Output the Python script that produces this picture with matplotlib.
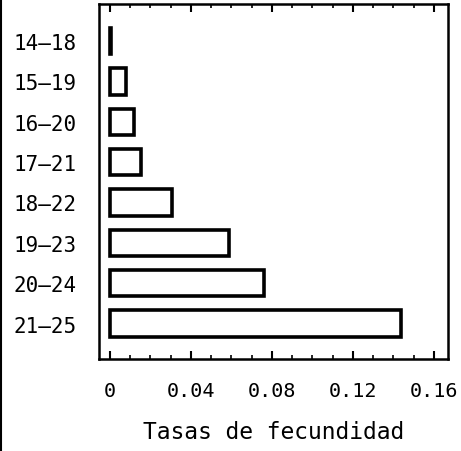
import matplotlib
matplotlib.use("Agg")
import matplotlib.pyplot as plt
from matplotlib.ticker import MultipleLocator, FixedLocator
from matplotlib.lines import Line2D

# Fertility rates by age group
age_groups = ["14-18", "15-19", "16-20", "17-21", "18-22", "19-23", "20-24", "21-25"]
rates = [0.0005, 0.0079, 0.0119, 0.0153, 0.0306, 0.0588, 0.0760, 0.1437]
xtick_values = [0, 0.04, 0.08, 0.12, 0.16]
xtick_labels = ["0", "0.04", "0.08", "0.12", "0.16"]

plt.rcParams["font.family"] = "DejaVu Sans Mono"

fig = plt.figure(figsize=(4.61, 4.52), dpi=100)
ax = fig.add_axes([0.2148, 0.2035, 0.757, 0.7854])

positions = list(range(len(age_groups)))
ax.barh(positions, rates, height=0.66, left=0, color="white",
        edgecolor="black", linewidth=2.6)

ax.set_ylim(len(age_groups) - 1 + 0.88, -0.92)
ax.set_xlim(-0.0054, 0.167)

ax.set_yticks(positions)
ax.set_yticklabels([g.replace("-", "\u2013") for g in age_groups], fontsize=15)
ax.tick_params(axis="y", length=0, pad=16)

ax.xaxis.set_major_locator(FixedLocator(xtick_values))
ax.set_xticklabels(xtick_labels, fontsize=14.5)
ax.xaxis.set_minor_locator(MultipleLocator(0.01))
ax.tick_params(axis="x", which="major", direction="in", length=6, width=1.5,
               top=True, pad=16)
ax.tick_params(axis="x", which="minor", direction="in", length=3, width=1.2,
               top=True)

for spine in ax.spines.values():
    spine.set_linewidth(1.8)

ax.set_xlabel("Tasas de fecundidad", fontsize=16.5, labelpad=14)

# thin border line along the left edge of the sheet
fig.add_artist(Line2D([0.003, 0.003], [0.0, 1.0], color="black",
                      linewidth=1.5, transform=fig.transFigure))

fig.savefig("out.png", dpi=100)
